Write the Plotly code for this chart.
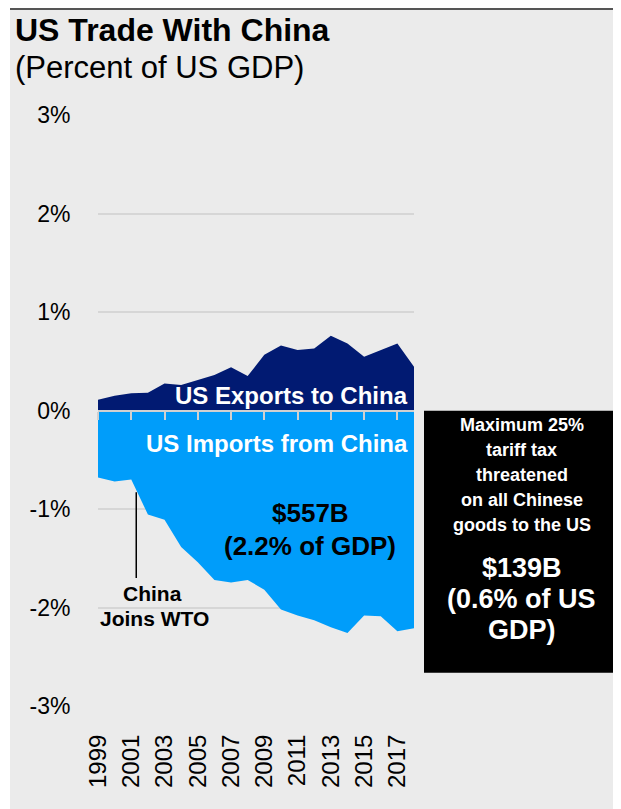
import plotly.graph_objects as go

years = list(range(1999, 2019))
exports_pct = [0.11, 0.15, 0.175, 0.18, 0.275, 0.26, 0.31, 0.36, 0.44, 0.35,
               0.565, 0.66, 0.615, 0.63, 0.76, 0.68, 0.545, 0.615, 0.68, 0.445]
imports_pct = [-0.68, -0.72, -0.70, -1.055, -1.11, -1.385, -1.54, -1.72, -1.745, -1.72,
               -1.82, -2.02, -2.08, -2.13, -2.20, -2.26, -2.08, -2.09, -2.24, -2.21]
ytick_vals = [3, 2, 1, 0, -1, -2, -3]
ytick_text = ["3%", "2%", "1%", "0%", "-1%", "-2%", "-3%"]
xtick_vals = years[::2]
xtick_text = [str(y) for y in xtick_vals]

# the page body has an 8px margin; coordinates below are screenshot pixels
OFF = 8
W, H = 621 - OFF, 809 - OFF
ML, MR, MT, MB = 98 - OFF, W - (414 - OFF), 115 - OFF, H - (706 - OFF)
PW, PH = W - ML - MR, H - MT - MB


def px(x):
    return (x - OFF - ML) / PW


def py(y):
    return (H - MB - (y - OFF)) / PH


FONT = "Liberation Sans, Arial, sans-serif"
BG = "#ebebeb"
NAVY = "#011a72"
BLUE = "#009dfa"

fig = go.Figure()
fig.add_trace(go.Scatter(x=years, y=exports_pct, fill="tozeroy", mode="lines",
                         line=dict(width=0, color=NAVY), fillcolor=NAVY,
                         hoverinfo="skip", showlegend=False))
fig.add_trace(go.Scatter(x=years, y=imports_pct, fill="tozeroy", mode="lines",
                         line=dict(width=0, color=BLUE), fillcolor=BLUE,
                         hoverinfo="skip", showlegend=False))
# helper trace so that the zero-line axis (x2) is drawn
fig.add_trace(go.Scatter(x=[years[0]], y=[0], xaxis="x2", mode="markers",
                         marker=dict(opacity=0), hoverinfo="skip", showlegend=False))

annotations = [
    dict(text="<b>US Trade With China</b>", x=px(13), y=py(30), xanchor="left", yanchor="middle",
         font=dict(size=32, color="black")),
    dict(text="(Percent of US GDP)", x=px(13), y=py(68), xanchor="left", yanchor="middle",
         font=dict(size=31, color="black")),
    dict(text="<b>US Exports to China</b>", x=px(410), y=py(395), xanchor="right", yanchor="middle",
         font=dict(size=24, color="white")),
    dict(text="<b>US Imports from China</b>", x=px(410), y=py(443), xanchor="right", yanchor="middle",
         font=dict(size=24, color="white")),
    dict(text="<b>$557B</b>", x=px(310), y=py(513), xanchor="center", yanchor="middle",
         font=dict(size=26, color="black")),
    dict(text="<b>(2.2% of GDP)</b>", x=px(310), y=py(546), xanchor="center", yanchor="middle",
         font=dict(size=26, color="black")),
    dict(text="<b>China</b>", x=px(152), y=py(593), xanchor="center", yanchor="middle",
         font=dict(size=21, color="black")),
    dict(text="<b>Joins WTO</b>", x=px(154), y=py(618), xanchor="center", yanchor="middle",
         font=dict(size=21, color="black")),
]
box_lines = [("Maximum 25%", 425), ("tariff tax", 450), ("threatened", 475),
             ("on all Chinese", 500), ("goods to the US", 525)]
for t, yy in box_lines:
    annotations.append(dict(text="<b>" + t + "</b>", x=px(521.5), y=py(yy), xanchor="center",
                            yanchor="middle", font=dict(size=18, color="white")))
for t, yy in [("$139B", 568), ("(0.6% of US", 599), ("GDP)", 630)]:
    annotations.append(dict(text="<b>" + t + "</b>", x=px(521.5), y=py(yy), xanchor="center",
                            yanchor="middle", font=dict(size=27, color="white")))
for a in annotations:
    a.update(xref="paper", yref="paper", showarrow=False)

shapes = [
    dict(type="rect", xref="paper", yref="paper", x0=px(0), x1=px(10), y0=-1, y1=2,
         fillcolor="white", line=dict(width=0), layer="above"),
    dict(type="line", xref="paper", yref="paper", x0=px(10), x1=px(W + OFF + 5), y0=py(8.5), y1=py(8.5),
         line=dict(color="#555555", width=3), layer="above"),
    dict(type="rect", xref="paper", yref="paper", x0=px(424), x1=px(618), y0=py(672.7), y1=py(410.7),
         fillcolor="black", line=dict(width=0), layer="above"),
    dict(type="line", xref="x", yref="y", x0=2001.3, x1=2001.3, y0=-0.83, y1=-1.70,
         line=dict(color="black", width=1.5), layer="above"),
]

fig.update_layout(
    width=W, height=H,
    margin=dict(l=ML, r=MR, t=MT, b=MB, pad=0),
    paper_bgcolor=BG, plot_bgcolor=BG,
    font=dict(family=FONT, color="black"),
    showlegend=False,
    annotations=annotations,
    shapes=shapes,
    xaxis=dict(range=[1999, 2018], tickvals=xtick_vals, ticktext=xtick_text, tickangle=-90,
               showgrid=False, zeroline=False, showline=False,
               ticks="outside", ticklen=18, tickcolor=BG,
               tickfont=dict(size=24, color="black")),
    xaxis2=dict(range=[1999, 2018], overlaying="x", anchor="free", position=0.5, side="bottom",
                showgrid=False, zeroline=False, showline=True, linecolor="#d0d0d0", linewidth=2,
                ticks="outside", ticklen=8, tickwidth=2, tickcolor="#d0d0d0",
                tickvals=xtick_vals, showticklabels=False),
    yaxis=dict(range=[-3, 3], tickvals=ytick_vals, ticktext=ytick_text,
               showgrid=True, gridcolor="#d6d6d6", gridwidth=1.5, zeroline=False,
               ticks="outside", ticklen=22, tickcolor=BG,
               tickfont=dict(size=23, color="black")),
)

fig.write_html("out.html")
